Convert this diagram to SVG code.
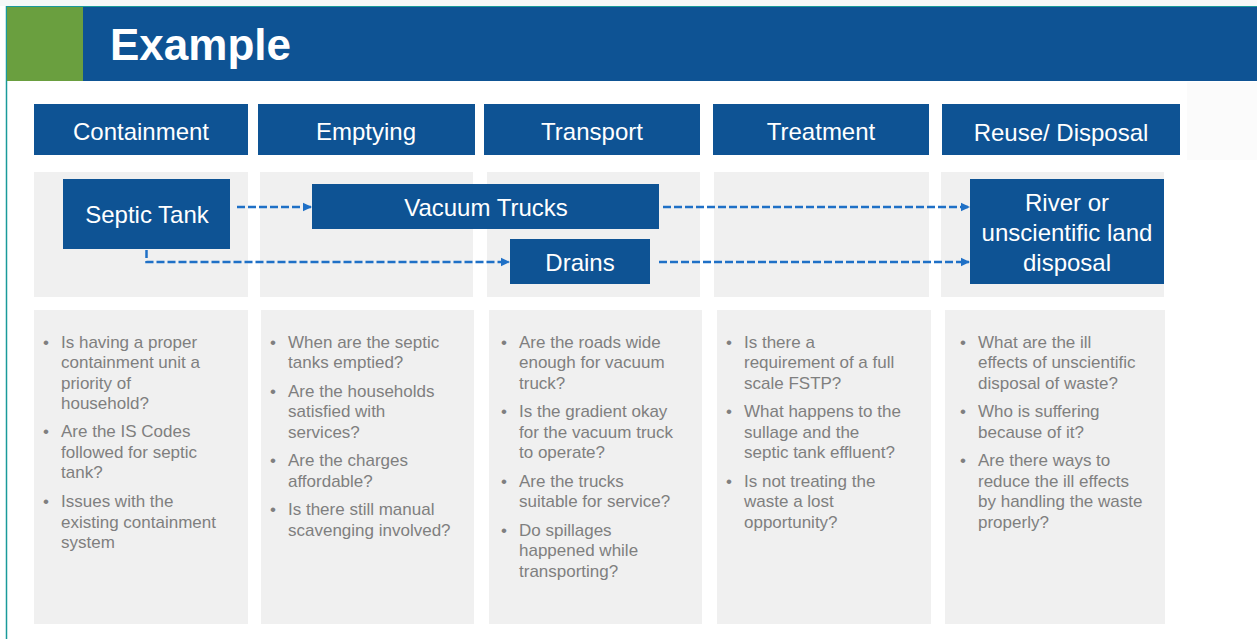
<svg xmlns="http://www.w3.org/2000/svg" width="1257" height="639" viewBox="0 0 1257 639">
<defs>
<style>
.hdr{fill:#0e5394}
.grey{fill:#f0f0f0}
.node{fill:#0e5394}
.ht{font-family:"Liberation Sans",Arial,sans-serif;font-size:24px;fill:#ffffff;text-anchor:middle}
.nt{font-family:"Liberation Sans",Arial,sans-serif;font-size:24px;fill:#ffffff;text-anchor:middle}
.bt{font-family:"Liberation Sans",Arial,sans-serif;font-size:17px;fill:#7f7f7f}
.conn{fill:none;stroke:#1f70c6;stroke-width:2.5;stroke-dasharray:8 3}
</style>
<marker id="ah" markerWidth="10" markerHeight="10" refX="8" refY="5" orient="auto" markerUnits="userSpaceOnUse">
<path d="M0,0.8 L9,5 L0,9.2 Z" fill="#1f70c6"/>
</marker>
</defs>
<rect x="0" y="0" width="1257" height="639" fill="#ffffff"/>
<rect x="0" y="0" width="1257" height="6" fill="#f6f8f8"/>
<rect x="1187" y="82" width="70" height="78" fill="#fbfbfb"/>
<line x1="6" y1="6.5" x2="1257" y2="6.5" stroke="#1a9a9a" stroke-width="1"/>
<line x1="6.5" y1="6" x2="6.5" y2="639" stroke="#1a9a9a" stroke-width="1.5"/>
<g id="title">
<rect x="7" y="7" width="76" height="74" fill="#6a9f3f"/>
<rect x="83" y="7" width="1174" height="74" fill="#0e5394"/>
<text x="110" y="60" font-family="'Liberation Sans',Arial,sans-serif" font-size="44" font-weight="bold" fill="#ffffff">Example</text>
</g>
<g id="headers">
<g id="h-containment"><rect class="hdr" x="34" y="104" width="214" height="51"/><text class="ht" x="141" y="140">Containment</text></g>
<g id="h-emptying"><rect class="hdr" x="258" y="104" width="217" height="51"/><text class="ht" x="366" y="140">Emptying</text></g>
<g id="h-transport"><rect class="hdr" x="484" y="104" width="216" height="51"/><text class="ht" x="592" y="140">Transport</text></g>
<g id="h-treatment"><rect class="hdr" x="713" y="104" width="216" height="51"/><text class="ht" x="821" y="140">Treatment</text></g>
<g id="h-reuse"><rect class="hdr" x="942" y="104" width="238" height="51"/><text class="ht" x="1061" y="141">Reuse/ Disposal</text></g>
</g>
<g id="lanes">
<rect class="grey" x="34" y="172" width="214" height="125"/>
<rect class="grey" x="260" y="172" width="213" height="125"/>
<rect class="grey" x="487" y="172" width="213" height="125"/>
<rect class="grey" x="714" y="172" width="215" height="125"/>
<rect class="grey" x="941" y="172" width="223" height="125"/>
</g>
<g id="connectors">
<line class="conn" x1="237" y1="207" x2="311" y2="207" marker-end="url(#ah)"/>
<polyline class="conn" points="146.5,250 146.5,262 509,262" marker-end="url(#ah)"/>
<line class="conn" x1="663" y1="207" x2="969" y2="207" marker-end="url(#ah)"/>
<line class="conn" x1="659" y1="262" x2="969" y2="262" marker-end="url(#ah)"/>
</g>
<g id="septic-tank"><rect class="node" x="63" y="179" width="167" height="70"/><text class="nt" x="147" y="223">Septic Tank</text></g>
<g id="vacuum-trucks"><rect class="node" x="312" y="184" width="347" height="45"/><text class="nt" x="486" y="216">Vacuum Trucks</text></g>
<g id="drains"><rect class="node" x="510" y="239" width="140" height="45"/><text class="nt" x="580" y="271">Drains</text></g>
<g id="river"><rect class="node" x="970" y="179" width="194" height="105"/>
<text class="nt" x="1067" y="211">River or</text>
<text class="nt" x="1067" y="241">unscientific land</text>
<text class="nt" x="1067" y="271">disposal</text></g>
<g id="questions">
<g id="q-containment">
<rect class="grey" x="34" y="310" width="214" height="314"/>
<text class="bt"><tspan x="43" y="348">•</tspan><tspan x="61" y="348">Is having a proper</tspan><tspan x="61" y="368">containment unit a</tspan><tspan x="61" y="389">priority of</tspan><tspan x="61" y="409">household?</tspan>
<tspan x="43" y="437">•</tspan><tspan x="61" y="437">Are the IS Codes</tspan><tspan x="61" y="458">followed for septic</tspan><tspan x="61" y="478">tank?</tspan>
<tspan x="43" y="507">•</tspan><tspan x="61" y="507">Issues with the</tspan><tspan x="61" y="528">existing containment</tspan><tspan x="61" y="548">system</tspan></text>
</g>
<g id="q-emptying">
<rect class="grey" x="261" y="310" width="213" height="314"/>
<text class="bt"><tspan x="270" y="348">•</tspan><tspan x="288" y="348">When are the septic</tspan><tspan x="288" y="368">tanks emptied?</tspan>
<tspan x="270" y="397">•</tspan><tspan x="288" y="397">Are the households</tspan><tspan x="288" y="417">satisfied with</tspan><tspan x="288" y="438">services?</tspan>
<tspan x="270" y="466">•</tspan><tspan x="288" y="466">Are the charges</tspan><tspan x="288" y="487">affordable?</tspan>
<tspan x="270" y="515">•</tspan><tspan x="288" y="515">Is there still manual</tspan><tspan x="288" y="536">scavenging involved?</tspan></text>
</g>
<g id="q-transport">
<rect class="grey" x="489" y="310" width="213" height="314"/>
<text class="bt"><tspan x="501" y="348">•</tspan><tspan x="519" y="348">Are the roads wide</tspan><tspan x="519" y="368">enough for vacuum</tspan><tspan x="519" y="389">truck?</tspan>
<tspan x="501" y="417">•</tspan><tspan x="519" y="417">Is the gradient okay</tspan><tspan x="519" y="438">for the vacuum truck</tspan><tspan x="519" y="458">to operate?</tspan>
<tspan x="501" y="487">•</tspan><tspan x="519" y="487">Are the trucks</tspan><tspan x="519" y="507">suitable for service?</tspan>
<tspan x="501" y="536">•</tspan><tspan x="519" y="536">Do spillages</tspan><tspan x="519" y="556">happened while</tspan><tspan x="519" y="577">transporting?</tspan></text>
</g>
<g id="q-treatment">
<rect class="grey" x="717" y="310" width="214" height="314"/>
<text class="bt"><tspan x="726" y="348">•</tspan><tspan x="744" y="348">Is there a</tspan><tspan x="744" y="368">requirement of a full</tspan><tspan x="744" y="389">scale FSTP?</tspan>
<tspan x="726" y="417">•</tspan><tspan x="744" y="417">What happens to the</tspan><tspan x="744" y="438">sullage and the</tspan><tspan x="744" y="458">septic tank effluent?</tspan>
<tspan x="726" y="487">•</tspan><tspan x="744" y="487">Is not treating the</tspan><tspan x="744" y="507">waste a lost</tspan><tspan x="744" y="528">opportunity?</tspan></text>
</g>
<g id="q-reuse">
<rect class="grey" x="945" y="310" width="220" height="314"/>
<text class="bt"><tspan x="960" y="348">•</tspan><tspan x="978" y="348">What are the ill</tspan><tspan x="978" y="368">effects of unscientific</tspan><tspan x="978" y="389">disposal of waste?</tspan>
<tspan x="960" y="417">•</tspan><tspan x="978" y="417">Who is suffering</tspan><tspan x="978" y="438">because of it?</tspan>
<tspan x="960" y="466">•</tspan><tspan x="978" y="466">Are there ways to</tspan><tspan x="978" y="487">reduce the ill effects</tspan><tspan x="978" y="507">by handling the waste</tspan><tspan x="978" y="528">properly?</tspan></text>
</g>
</g>
</svg>
